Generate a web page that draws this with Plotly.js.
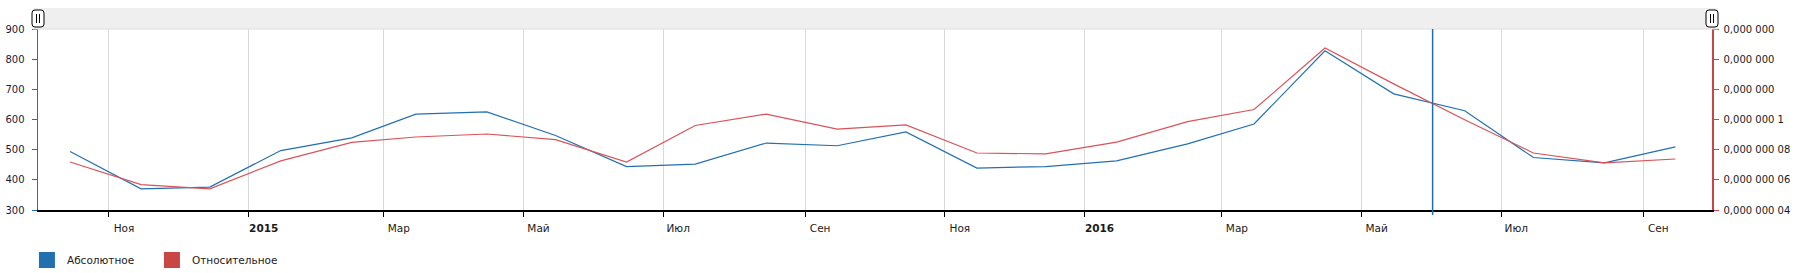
<!DOCTYPE html>
<html>
<head>
<meta charset="utf-8">
<script src="https://cdn.plot.ly/plotly-3.0.1.min.js"></script>
<style>
html,body{margin:0;padding:0;background:#fff;}
#chart{width:1813px;height:273px;}
</style>
</head>
<body>
<div id="chart"></div>
<script>
// ---- data ----
var months = [
  '2014-10-15','2014-11-15','2014-12-15',
  '2015-01-15','2015-02-15','2015-03-15','2015-04-15','2015-05-15','2015-06-15',
  '2015-07-15','2015-08-15','2015-09-15','2015-10-15','2015-11-15','2015-12-15',
  '2016-01-15','2016-02-15','2016-03-15','2016-04-15','2016-05-15','2016-06-15',
  '2016-07-15','2016-08-15','2016-09-15'
];
var absoluteValues = [494, 370, 376, 497, 539, 618, 625, 547, 444, 452, 522, 513,
                      559, 439, 444, 463, 519, 585, 828, 685, 629, 474, 456, 509];
var relativeValues = [7.18e-8, 5.68e-8, 5.40e-8, 7.26e-8, 8.48e-8, 8.84e-8, 9.04e-8, 8.66e-8,
                      7.18e-8, 9.60e-8, 1.036e-7, 9.36e-8, 9.64e-8, 7.78e-8, 7.72e-8, 8.50e-8,
                      9.86e-8, 1.066e-7, 1.474e-7, 1.236e-7, 9.98e-8, 7.78e-8, 7.12e-8, 7.38e-8];
var seriesNames = ['Абсолютное', 'Относительное'];

var xTickVals = ['2014-11-01','2015-01-01','2015-03-01','2015-05-01','2015-07-01','2015-09-01',
                 '2015-11-01','2016-01-01','2016-03-01','2016-05-01','2016-07-01','2016-09-01'];
var xTickText = ['Ноя','<b>2015</b>','Мар','Май','Июл','Сен',
                 'Ноя','<b>2016</b>','Мар','Май','Июл','Сен'];
var y2TickVals = [4e-8, 6e-8, 8e-8, 1e-7, 1.2e-7, 1.4e-7, 1.6e-7];
var y2TickText = ['0,000 000 04','0,000 000 06','0,000 000 08','0,000 000 1',
                  '0,000 000','0,000 000','0,000 000'];
var cursorDate = '2016-06-01';

// ---- style ----
var BLUE = '#2370b0';
var RED = '#c94644';
var FONT = 'DejaVu Sans, Verdana, sans-serif';

var traces = [
  {x: months, y: absoluteValues, type: 'scatter', mode: 'lines', name: seriesNames[0],
   line: {color: BLUE, width: 1.2}, showlegend: false, hoverinfo: 'skip'},
  {x: months, y: relativeValues, type: 'scatter', mode: 'lines', name: seriesNames[1],
   yaxis: 'y2', line: {color: '#d9535a', width: 1.2}, showlegend: false, hoverinfo: 'skip'},
  // legend entries (square swatches)
  {x: [null], y: [null], type: 'scatter', mode: 'markers', name: seriesNames[0],
   marker: {symbol: 'square', size: 16, color: BLUE}, showlegend: true, hoverinfo: 'skip'},
  {x: [null], y: [null], type: 'scatter', mode: 'markers', name: seriesNames[1],
   marker: {symbol: 'square', size: 16, color: RED}, showlegend: true, hoverinfo: 'skip'}
];

function handlePath() {
  return 'M -3,2 L 3,2 Q 6,2 6,5 L 6,16 Q 6,19 3,19 L -3,19 Q -6,19 -6,16 L -6,5 Q -6,2 -3,2 Z';
}

var layout = {
  width: 1813, height: 273,
  margin: {l: 38, r: 101, t: 29, b: 63, pad: 0, autoexpand: false},
  paper_bgcolor: '#ffffff', plot_bgcolor: '#ffffff',
  font: {family: FONT, size: 10, color: '#1a1a1a'},
  showlegend: true,
  legend: {orientation: 'h', x: -0.0066, xanchor: 'left', y: -0.276, yanchor: 'middle',
           font: {family: FONT, size: 10.5, color: '#1a1a1a'}, bgcolor: 'rgba(0,0,0,0)',
           itemwidth: 30, entrywidth: 80, entrywidthmode: 'pixels'},
  xaxis: {
    type: 'date', range: ['2014-10-01', '2016-10-01'],
    tickmode: 'array', tickvals: xTickVals, ticktext: xTickText,
    ticks: 'outside', ticklen: 5, tickcolor: '#000', tickwidth: 1,
    showline: true, linecolor: '#000', linewidth: 1.5,
    showgrid: true, gridcolor: '#d9d9d9', gridwidth: 1,
    zeroline: false, ticklabelshift: 15, ticklabelstandoff: 3,
    tickfont: {family: FONT, size: 10.5, color: '#1a1a1a'},
    fixedrange: true
  },
  yaxis: {
    range: [300, 900], dtick: 100, tick0: 300,
    ticks: 'outside', ticklen: 5, tickcolor: BLUE, tickwidth: 1,
    showline: true, linecolor: BLUE, linewidth: 1.5,
    showgrid: false, zeroline: false, ticklabelstandoff: 5,
    tickfont: {family: FONT, size: 10, color: '#1a1a3a'},
    fixedrange: true
  },
  yaxis2: {
    overlaying: 'y', side: 'right', range: [4e-8, 1.6e-7],
    tickmode: 'array', tickvals: y2TickVals, ticktext: y2TickText,
    ticks: 'outside', ticklen: 5, tickcolor: RED, tickwidth: 1,
    showline: true, linecolor: RED, linewidth: 1.5,
    showgrid: false, zeroline: false, ticklabelstandoff: 3,
    tickfont: {family: FONT, size: 10, color: '#1a1a1a'},
    fixedrange: true
  },
  shapes: [
    // scrollbar background
    {type: 'rect', xref: 'paper', yref: 'paper', x0: -0.003, x1: 1.0036, y0: 1.0, y1: 1.116,
     fillcolor: '#efefef', line: {width: 0}, layer: 'below'},
    {type: 'line', xref: 'paper', yref: 'paper', x0: -0.003, x1: 1.0036, y0: 1.0, y1: 1.0,
     line: {color: '#dedede', width: 1}},
    // cursor line
    {type: 'line', xref: 'x', yref: 'paper', x0: cursorDate, x1: cursorDate, y0: -0.028, y1: 1,
     line: {color: '#1f6fad', width: 1.5}},
    // left handle
    {type: 'path', xref: 'paper', yref: 'paper', xsizemode: 'pixel', ysizemode: 'pixel',
     xanchor: 0, yanchor: 1, path: handlePath(), fillcolor: '#ffffff', line: {color: '#000', width: 1}},
    {type: 'path', xref: 'paper', yref: 'paper', xsizemode: 'pixel', ysizemode: 'pixel',
     xanchor: 0, yanchor: 1, path: 'M -1.5,6 L -1.5,15 M 1.5,6 L 1.5,15', line: {color: '#000', width: 1}},
    // right handle
    {type: 'path', xref: 'paper', yref: 'paper', xsizemode: 'pixel', ysizemode: 'pixel',
     xanchor: 1, yanchor: 1, path: handlePath(), fillcolor: '#ffffff', line: {color: '#000', width: 1}},
    {type: 'path', xref: 'paper', yref: 'paper', xsizemode: 'pixel', ysizemode: 'pixel',
     xanchor: 1, yanchor: 1, path: 'M -1.5,6 L -1.5,15 M 1.5,6 L 1.5,15', line: {color: '#000', width: 1}}
  ]
};

Plotly.newPlot('chart', traces, layout, {staticPlot: true, displayModeBar: false});
</script>
</body>
</html>
